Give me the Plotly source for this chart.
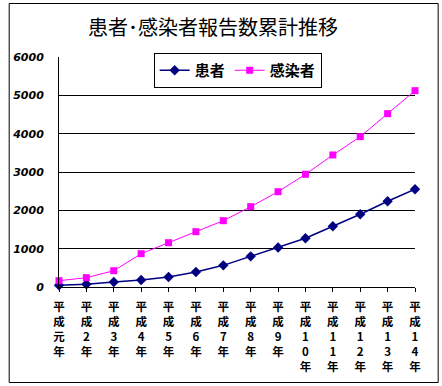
import plotly.graph_objects as go

categories = ["平成元年", "平成2年", "平成3年", "平成4年", "平成5年", "平成6年", "平成7年",
              "平成8年", "平成9年", "平成10年", "平成11年", "平成12年", "平成13年", "平成14年"]
tick_labels = ["平<br>成<br>元<br>年", "平<br>成<br>2<br>年", "平<br>成<br>3<br>年", "平<br>成<br>4<br>年",
               "平<br>成<br>5<br>年", "平<br>成<br>6<br>年", "平<br>成<br>7<br>年", "平<br>成<br>8<br>年",
               "平<br>成<br>9<br>年", "平<br>成<br>1<br>0<br>年", "平<br>成<br>1<br>1<br>年",
               "平<br>成<br>1<br>2<br>年", "平<br>成<br>1<br>3<br>年", "平<br>成<br>1<br>4<br>年"]
patients = [44, 70, 130, 183, 261, 391, 565, 800, 1030, 1272, 1585, 1897, 2236, 2550]
infected = [164, 243, 425, 869, 1156, 1443, 1730, 2095, 2486, 2940, 3444, 3922, 4522, 5122]
y_ticks = [0, 1000, 2000, 3000, 4000, 5000, 6000]

xs = list(range(len(categories)))
cjk = "Noto Sans CJK JP"

fig = go.Figure()
fig.add_trace(go.Scatter(
    x=xs, y=patients, name="患者", mode="lines+markers",
    line=dict(color="#000080", width=1.5),
    marker=dict(symbol="diamond", size=8, color="#000080"),
    cliponaxis=False, customdata=categories))
fig.add_trace(go.Scatter(
    x=xs, y=infected, name="感染者", mode="lines+markers",
    line=dict(color="#FF00FF", width=1),
    marker=dict(symbol="square", size=7, color="#FF00FF"),
    cliponaxis=False, customdata=categories))

L, R, T, B = 54, 415, 57, 287
W, H = 442, 386
pw, ph = R - L, B - T

fig.update_layout(
    width=W, height=H,
    margin=dict(l=L, r=W - R, t=T, b=H - B, pad=0),
    paper_bgcolor="white", plot_bgcolor="white",
    showlegend=True,
    title=dict(text="患者･感染者報告数累計推移", x=213 / W, xanchor="center",
               y=1 - 28 / H, yanchor="middle",
               font=dict(family=cjk, size=20, color="black", weight="normal")),
    legend=dict(orientation="h", x=(150 - L) / pw, xanchor="left",
                y=(B - 53) / ph, yanchor="top",
                bgcolor="white", bordercolor="black", borderwidth=1,
                font=dict(family=cjk, size=15, color="black", weight="bold"),
                itemwidth=30, tracegroupgap=0),
    xaxis=dict(range=[0, len(categories) - 1], tickvals=xs, ticktext=tick_labels,
               showgrid=False, zeroline=False, showline=True, linecolor="black", linewidth=1,
               ticks="outside", ticklen=4, tickcolor="black", ticklabelstandoff=5,
               tickfont=dict(family=cjk, size=11.5, color="black", weight="bold"),
               tickangle=0, fixedrange=True),
    yaxis=dict(range=[0, 6000], tickvals=y_ticks, ticktext=[str(v) for v in y_ticks],
               showgrid=True, gridcolor="black", gridwidth=1, zeroline=False,
               showline=True, linecolor="black", linewidth=1,
               ticks="", ticklabelstandoff=12,
               tickfont=dict(family="DejaVu Sans", size=11, color="black",
                             weight="bold", style="italic"),
               fixedrange=True),
)

# outer frame of the chart area
fig.add_shape(type="rect", xref="paper", yref="paper",
              x0=(3.5 - L) / pw, x1=(438.5 - L) / pw,
              y0=(B - 382.5) / ph, y1=(B - 3.5) / ph,
              line=dict(color="black", width=1), fillcolor="rgba(0,0,0,0)", layer="above")

fig.write_html("out.html", config={"displayModeBar": False},
               post_script="document.body.style.margin='0';document.body.style.padding='0';")
